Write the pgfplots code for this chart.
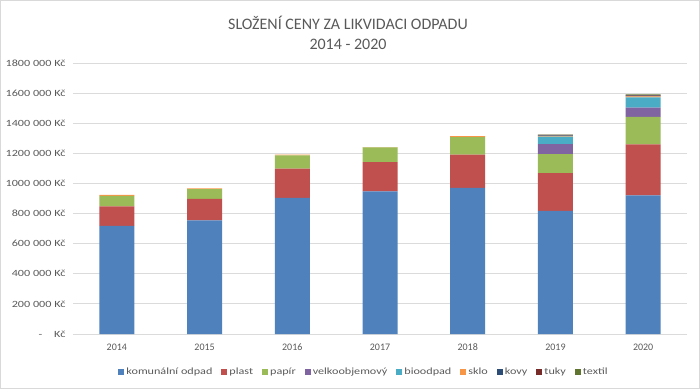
\documentclass[border=0pt]{standalone}
\usepackage{pgfplots}
\pgfplotsset{compat=1.18}
\usepackage{fontspec}
\setmainfont{Carlito}
\newfontfamily\widefont[FakeStretch=1.28]{Carlito}
\definecolor{cKom}{HTML}{4F81BD}
\definecolor{cPla}{HTML}{C0504D}
\definecolor{cPap}{HTML}{9BBB59}
\definecolor{cVel}{HTML}{8064A2}
\definecolor{cBio}{HTML}{4BACC6}
\definecolor{cSkl}{HTML}{F79646}
\definecolor{cKov}{HTML}{2C4D75}
\definecolor{cTuk}{HTML}{772C2A}
\definecolor{cTex}{HTML}{5F7530}
\definecolor{txt}{HTML}{595959}
\begin{document}
\begin{tikzpicture}
\draw[draw=black!15, line width=1pt] (-72.5pt,-54.5pt) rectangle (626.5pt,333.5pt);
\begin{axis}[
  at={(0pt,0pt)}, anchor=south west,
  scale only axis, width=614pt, height=271pt,
  ybar stacked, bar width=35pt,
  xmin=-0.5, xmax=6.5, ymin=0, ymax=1800000,
  scaled y ticks=false,
  xtick={0,...,6}, xticklabels={2014,2015,2016,2017,2018,2019,2020},
  ytick={0,200000,...,1800000},
  yticklabels={{-\hspace{12pt}Kč},200 000 Kč,400 000 Kč,600 000 Kč,800 000 Kč,1000 000 Kč,1200 000 Kč,1400 000 Kč,1600 000 Kč,1800 000 Kč},
  ymajorgrids, grid style={black!14, line width=0.8pt},
  axis line style={draw=none}, tick style={draw=none},
  xticklabel style={font=\fontsize{10}{11}\selectfont, text=txt, yshift=-6pt},
  yticklabel style={font=\widefont\fontsize{9.5}{10}\selectfont, text=txt, xshift=-4pt},
  legend style={at={(0.474,-0.14)}, anchor=center, draw=none, fill=none,
    legend columns=9, font=\widefont\fontsize{9.5}{10}\selectfont, text=txt,
    /tikz/every even column/.append style={column sep=7pt}},
  legend image code/.code={\fill[#1] (1pt,-3pt) rectangle (7pt,3pt);},
  every axis plot/.append style={draw=none},
]
\addplot[fill=cKom] coordinates {(0,718000) (1,755000) (2,905000) (3,947000) (4,971000) (5,818000) (6,920000)};
\addplot[fill=cPla] coordinates {(0,129000) (1,143000) (2,193000) (3,195000) (4,220000) (5,250000) (6,340000)};
\addplot[fill=cPap] coordinates {(0,71000) (1,65000) (2,89000) (3,98000) (4,117000) (5,127000) (6,182000)};
\addplot[fill=cVel] coordinates {(0,0) (1,0) (2,0) (3,0) (4,0) (5,67000) (6,62000)};
\addplot[fill=cBio] coordinates {(0,0) (1,0) (2,0) (3,0) (4,0) (5,49000) (6,67000)};
\addplot[fill=cSkl] coordinates {(0,6000) (1,4000) (2,4000) (3,2000) (4,7000) (5,5000) (6,8000)};
\addplot[fill=cKov] coordinates {(0,0) (1,0) (2,0) (3,0) (4,0) (5,3000) (6,4000)};
\addplot[fill=cTuk] coordinates {(0,0) (1,0) (2,0) (3,0) (4,0) (5,3000) (6,4000)};
\addplot[fill=cTex] coordinates {(0,0) (1,0) (2,0) (3,0) (4,0) (5,3000) (6,4000)};
\legend{komunální odpad,plast,papír,velkoobjemový,bioodpad,sklo,kovy,tuky,textil}
\end{axis}
\node[text=txt, font=\fontsize{16}{17}\selectfont] at (275pt,311pt) {SLOŽENÍ CENY ZA LIKVIDACI ODPADU};
\node[text=txt, font=\fontsize{16}{17}\selectfont] at (275pt,290pt) {2014 - 2020};
\end{tikzpicture}
\end{document}
